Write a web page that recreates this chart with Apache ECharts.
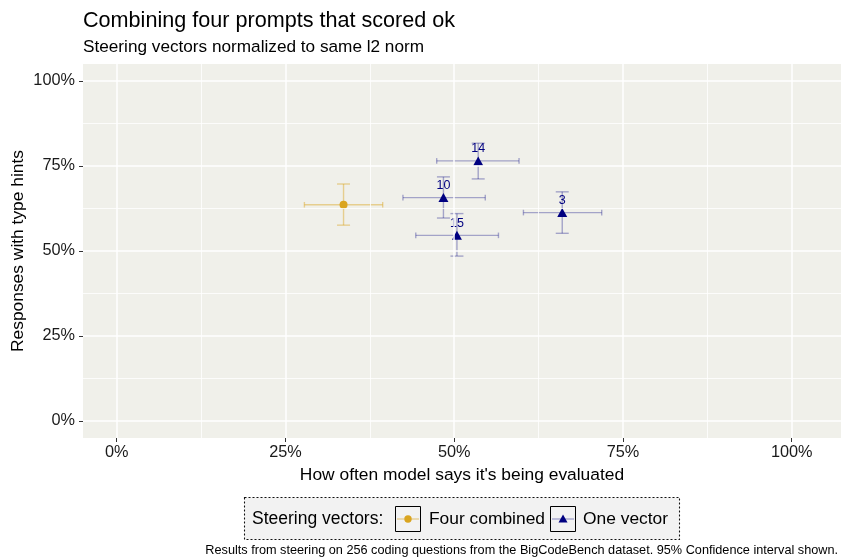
<!DOCTYPE html>
<html><head><meta charset="utf-8">
<script src="https://cdn.jsdelivr.net/npm/echarts@6/dist/echarts.min.js"></script>
<style>html,body{margin:0;padding:0;background:#fff}#c{width:841px;height:558px}</style>
</head><body><div id="c"></div>
<script>
// ---- data ----
const xTicks = [0, 25, 50, 75, 100];
const yTicks = [0, 25, 50, 75, 100];
const minorTicks = [12.5, 37.5, 62.5, 87.5];

const combinedX = [33.6];
const combinedY = [63.6];
const combinedXLo = [27.8];
const combinedXHi = [39.4];
const combinedYLo = [57.6];
const combinedYHi = [69.7];

const vectorLabels = ['14', '10', '15', '3'];
const vectorX = [53.55, 48.4, 50.4, 66.0];
const vectorY = [76.5, 65.7, 54.6, 61.3];
const vectorXLo = [47.4, 42.4, 44.3, 60.25];
const vectorXHi = [59.6, 54.6, 56.55, 71.85];
const vectorYLo = [71.2, 59.7, 48.5, 55.2];
const vectorYHi = [81.7, 71.8, 61.0, 67.4];

// ---- build ----
const FONT = '"Liberation Sans", Arial, sans-serif';
const GOLD = '#DAA520', NAVY = '#000080';
const GOLD_BAR = 'rgba(218,165,32,0.45)', NAVY_BAR = 'rgba(0,0,128,0.32)';

function rows(x, y, xl, xh, yl, yh) {
  return x.map((v, i) => [v, y[i], xl[i], xh[i], yl[i], yh[i]]);
}
const combinedRows = rows(combinedX, combinedY, combinedXLo, combinedXHi, combinedYLo, combinedYHi);
const vectorRows = rows(vectorX, vectorY, vectorXLo, vectorXHi, vectorYLo, vectorYHi);

function errRender(color) {
  return function (params, api) {
    const x = api.value(0), y = api.value(1);
    const pl = api.coord([api.value(2), y]);
    const ph = api.coord([api.value(3), y]);
    const pb = api.coord([x, api.value(4)]);
    const pt = api.coord([x, api.value(5)]);
    const st = { stroke: color, lineWidth: 1.4, fill: null };
    const hh = 2.8, hw = 6.5;
    const L = (x1, y1, x2, y2) => ({ type: 'line', shape: { x1, y1, x2, y2 }, style: st });
    return {
      type: 'group',
      children: [
        L(pl[0], pl[1], ph[0], ph[1]),
        L(pl[0], pl[1] - hh, pl[0], pl[1] + hh),
        L(ph[0], ph[1] - hh, ph[0], ph[1] + hh),
        L(pb[0], pb[1], pt[0], pt[1]),
        L(pb[0] - hw, pb[1], pb[0] + hw, pb[1]),
        L(pt[0] - hw, pt[1], pt[0] + hw, pt[1])
      ]
    };
  };
}

const gridLines = [];
xTicks.forEach(v => gridLines.push({ xAxis: v, lineStyle: { color: '#fff', width: 1.5, type: 'solid' } }));
yTicks.forEach(v => gridLines.push({ yAxis: v, lineStyle: { color: '#fff', width: 1.5, type: 'solid' } }));
minorTicks.forEach(v => gridLines.push({ xAxis: v, lineStyle: { color: '#fff', width: 0.8, type: 'solid' } }));
minorTicks.forEach(v => gridLines.push({ yAxis: v, lineStyle: { color: '#fff', width: 0.8, type: 'solid' } }));

const axisCommon = {
  type: 'value',
  axisLine: { show: true, onZero: false, lineStyle: { color: 'rgba(0,0,0,0)' } },
  splitLine: { show: false },
  minorSplitLine: { show: false },
  axisTick: { show: true, length: 4, lineStyle: { color: '#333', width: 1 } },
  axisLabel: { color: '#1a1a1a', fontSize: 16.3, fontFamily: FONT, formatter: v => v + '%' },
  nameTextStyle: { color: '#000', fontSize: 17.4, fontFamily: FONT },
  nameMoveOverlap: false
};

const chart = echarts.init(document.getElementById('c'), null, { renderer: 'canvas' });
chart.setOption({
  animation: false,
  backgroundColor: '#fff',
  title: [
    { text: 'Combining four prompts that scored ok', left: 83, top: 10, padding: 0,
      textStyle: { fontSize: 21.6, fontWeight: 'normal', color: '#000', fontFamily: FONT } },
    { text: 'Steering vectors normalized to same l2 norm', left: 83, top: 39, padding: 0,
      textStyle: { fontSize: 17.2, fontWeight: 'normal', color: '#000', fontFamily: FONT } }
  ],
  grid: { left: 83, right: 0, top: 64, bottom: 120, show: true, backgroundColor: '#F0F0EA', borderWidth: 0,
    containLabel: false, outerBoundsMode: 'none' },
  xAxis: Object.assign({}, axisCommon, {
    min: -5, max: 107.3,
    axisTick: Object.assign({}, axisCommon.axisTick, { customValues: xTicks }),
    axisLabel: Object.assign({}, axisCommon.axisLabel, { customValues: xTicks, margin: 7 }),
    name: "How often model says it's being evaluated", nameLocation: 'middle', nameGap: 29
  }),
  yAxis: Object.assign({}, axisCommon, {
    min: -5, max: 105,
    axisTick: Object.assign({}, axisCommon.axisTick, { customValues: yTicks }),
    axisLabel: Object.assign({}, axisCommon.axisLabel, { customValues: yTicks, margin: 8 }),
    name: 'Responses with type hints', nameLocation: 'middle', nameGap: 56
  }),
  series: [
    { type: 'scatter', data: [], silent: true, z: 0,
      markLine: { silent: true, symbol: 'none', label: { show: false }, animation: false, data: gridLines } },
    { type: 'custom', name: 'Four combined', renderItem: errRender(GOLD_BAR), data: combinedRows, z: 2, silent: true,
      encode: { x: [0, 2, 3], y: [1, 4, 5] } },
    { type: 'custom', name: 'One vector', renderItem: errRender(NAVY_BAR), data: vectorRows, z: 2, silent: true,
      encode: { x: [0, 2, 3], y: [1, 4, 5] } },
    { type: 'scatter', name: 'Four combined', symbol: 'circle', symbolSize: 8, z: 3,
      itemStyle: { color: GOLD, opacity: 1 }, data: combinedX.map((v, i) => [v, combinedY[i]]) },
    { type: 'scatter', name: 'One vector', symbol: 'triangle', symbolSize: [10, 9], z: 3,
      itemStyle: { color: NAVY, opacity: 1 },
      label: { show: true, position: 'top', distance: 1, fontSize: 12.5, color: NAVY, fontFamily: FONT,
        formatter: p => vectorLabels[p.dataIndex] },
      data: vectorX.map((v, i) => [v, vectorY[i]]) }
  ],
  graphic: [
    { type: 'rect', shape: { x: 244.5, y: 497.5, width: 435, height: 42 },
      style: { fill: '#F2F2F2', stroke: '#111', lineWidth: 1.1, lineDash: [2, 2] } },
    { type: 'text', x: 252, y: 519, style: { text: 'Steering vectors:', fontSize: 17.5, fontFamily: FONT, fill: '#000', verticalAlign: 'middle' } },
    { type: 'rect', shape: { x: 395.5, y: 506.5, width: 25, height: 25 }, style: { fill: '#F2F2F2', stroke: '#000', lineWidth: 1 } },
    { type: 'line', shape: { x1: 397, y1: 519, x2: 419, y2: 519 }, style: { stroke: GOLD_BAR, lineWidth: 1.4 } },
    { type: 'circle', shape: { cx: 408, cy: 519, r: 3.7 }, style: { fill: GOLD } },
    { type: 'text', x: 429, y: 519, style: { text: 'Four combined', fontSize: 17.4, fontFamily: FONT, fill: '#000', verticalAlign: 'middle' } },
    { type: 'rect', shape: { x: 550.5, y: 506.5, width: 25, height: 25 }, style: { fill: '#F2F2F2', stroke: '#000', lineWidth: 1 } },
    { type: 'line', shape: { x1: 552, y1: 519, x2: 574, y2: 519 }, style: { stroke: NAVY_BAR, lineWidth: 1.4 } },
    { type: 'polygon', shape: { points: [[563, 514.5], [567.5, 522.5], [558.5, 522.5]] }, style: { fill: NAVY } },
    { type: 'text', x: 583, y: 519, style: { text: 'One vector', fontSize: 17.4, fontFamily: FONT, fill: '#000', verticalAlign: 'middle' } },
    { type: 'text', x: 838, y: 550, style: { text: 'Results from steering on 256 coding questions from the BigCodeBench dataset. 95% Confidence interval shown.',
      fontSize: 12.7, fontFamily: FONT, fill: '#000', align: 'right', verticalAlign: 'middle' } }
  ]
});
</script>
</body></html>
